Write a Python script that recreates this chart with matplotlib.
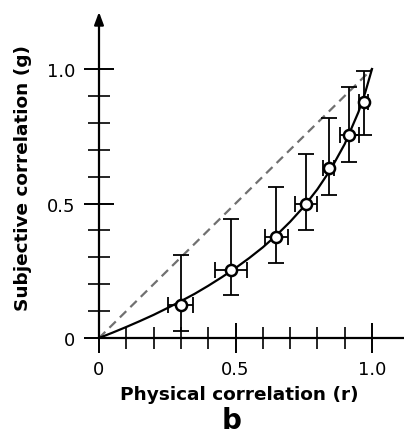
import numpy as np
import matplotlib
matplotlib.use("Agg")
import matplotlib.pyplot as plt
from matplotlib.ticker import FixedLocator

# measured points (physical r vs subjective g)
r = [0.300, 0.483, 0.648, 0.758, 0.842, 0.917, 0.971]
g = [0.124, 0.253, 0.377, 0.498, 0.632, 0.756, 0.876]
g_hi = [0.310, 0.443, 0.560, 0.684, 0.817, 0.932, 0.994]
g_lo = [0.027, 0.160, 0.280, 0.400, 0.532, 0.653, 0.755]
r_lo = [0.254, 0.425, 0.608, 0.718, 0.822, 0.883, 0.952]
r_hi = [0.345, 0.541, 0.693, 0.797, 0.862, 0.952, 0.987]

# fitted curve
curve_r = [0, 0.05, 0.1, 0.15, 0.2, 0.25, 0.3, 0.35, 0.4, 0.45, 0.5, 0.55,
           0.6, 0.65, 0.7, 0.75, 0.8, 0.85, 0.9, 0.95, 0.975, 1.0]
curve_g = [0, 0.020, 0.041, 0.063, 0.086, 0.111, 0.137, 0.164, 0.194, 0.226,
           0.260, 0.297, 0.337, 0.382, 0.432, 0.488, 0.553, 0.629, 0.721,
           0.839, 0.912, 1.0]

diag = [0, 1]
major_ticks = [0, 0.5, 1.0]
major_labels = ["0", "0.5", "1.0"]
minor_ticks = [0.1, 0.2, 0.3, 0.4, 0.6, 0.7, 0.8, 0.9]

W, H = 404, 435
fig = plt.figure(figsize=(W / 100, H / 100), dpi=100)
x0, y0 = 99, 339          # pixel position of the origin
sx, sy = 273, 269         # pixels per unit
ax = fig.add_axes([x0 / W, (H - y0) / H, (W - x0) / W, (y0 - 13) / H])
ax.set_xlim(0, (W - x0) / sx)
ax.set_ylim(0, (y0 - 13) / sy)

ax.plot(diag, diag, color="#707070", lw=1.6, linestyle=(0, (4, 2.6)), zorder=1)
ax.plot(curve_r, curve_g, color="black", lw=1.6, zorder=2)

g_arr, r_arr = np.array(g), np.array(r)
yerr = [g_arr - np.array(g_lo), np.array(g_hi) - g_arr]
xerr = [r_arr - np.array(r_lo), np.array(r_hi) - r_arr]
ax.errorbar(r, g, yerr=yerr, xerr=xerr, fmt="none", ecolor="black",
            elinewidth=1.3, capsize=5.8, capthick=1.3, zorder=3)
ax.plot(r, g, "o", ms=8, mfc="white", mec="black", mew=1.8, zorder=4)

for s in ["top", "right"]:
    ax.spines[s].set_visible(False)
ax.spines["bottom"].set_linewidth(1.6)
ax.spines["left"].set_visible(False)
ax.annotate("", xy=(0, (y0 - 13) / sy), xytext=(0, 0),
            xycoords="data", textcoords="data", annotation_clip=False,
            arrowprops=dict(arrowstyle="-|>,head_length=0.75,head_width=0.28",
                            lw=1.6, color="black", shrinkA=0, shrinkB=0))

ax.set_xticks(major_ticks)
ax.set_xticklabels(major_labels)
ax.set_yticks(major_ticks)
ax.set_yticklabels(major_labels)
ax.xaxis.set_minor_locator(FixedLocator(minor_ticks))
ax.yaxis.set_minor_locator(FixedLocator(minor_ticks))
ax.tick_params(which="major", direction="inout", length=22, width=1.4,
               labelsize=13, colors="black")
ax.tick_params(which="minor", direction="inout", length=16, width=1.2)
ax.tick_params(axis="x", which="major", pad=5)
ax.tick_params(axis="y", which="major", pad=6)

ax.set_xlabel("Physical correlation (r)", fontsize=13.3, fontweight="bold")
ax.xaxis.set_label_coords((239 - x0) / (W - x0), (y0 - 386) / (y0 - 13))
ax.set_ylabel("Subjective correlation (g)", fontsize=13.3, fontweight="bold")
ax.yaxis.set_label_coords((32 - x0) / (W - x0), (y0 - 178) / (y0 - 13))

fig.text(232 / W, 0, "b", fontsize=20, fontweight="bold",
         ha="center", va="bottom")

fig.savefig("out.png", dpi=100)
